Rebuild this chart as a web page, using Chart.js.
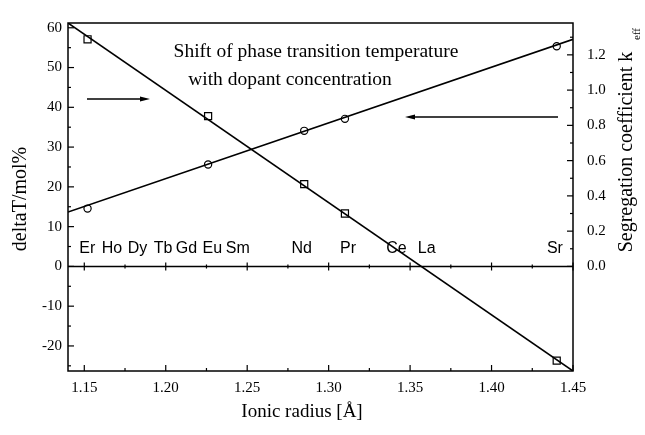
<!DOCTYPE html>
<html>
<head>
<meta charset="utf-8">
<script src="https://cdn.jsdelivr.net/npm/chart.js@4/dist/chart.umd.min.js"></script>
<style>
  html, body { margin: 0; padding: 0; background: #fff; }
  #wrap { width: 645px; height: 435px; }
</style>
</head>
<body>
<div id="wrap"><canvas id="chart" width="645" height="435"></canvas></div>
<script>
// measured points: ionic radius [A], shift of transition temperature, k_eff
const radius = [1.152, 1.226, 1.285, 1.310, 1.440];
const shiftT = [57.1, 37.8, 20.7, 13.3, -23.7];
const kEff = [0.328, 0.578, 0.769, 0.837, 1.249];

// straight-line fits, evaluated at the ends of the radius axis
const fitRadius = [1.14, 1.45];
const shiftFit = [61.2, -26.3];
const kFit = [0.308, 1.288];

// dopant ions and the radius each label sits at
const dopants = ['Er', 'Ho', 'Dy', 'Tb', 'Gd', 'Eu', 'Sm', 'Nd', 'Pr', 'Ce', 'La', 'Sr'];
const dopantRadius = [1.1518, 1.167, 1.1827, 1.1983, 1.2127, 1.2286, 1.2442, 1.2834, 1.3119, 1.3416, 1.3602, 1.4389];

const xTicks = [1.15, 1.20, 1.25, 1.30, 1.35, 1.40, 1.45];
const yTicks = [-20, -10, 0, 10, 20, 30, 40, 50, 60];
const kTicks = [0.0, 0.2, 0.4, 0.6, 0.8, 1.0, 1.2];

const yMin = -26.3, yMax = 61.2;
// right axis shares the zero line with the left one
const kPerUnit = 0.02256;

const serif = 'Liberation Serif, Times New Roman, serif';
const sans = 'Liberation Sans, Arial, sans-serif';

function arrow(ctx, x1, x2, yy) {
    const dir = Math.sign(x2 - x1);
    ctx.beginPath();
    ctx.moveTo(x1, yy);
    ctx.lineTo(x2 - dir * 6, yy);
    ctx.stroke();
    ctx.beginPath();
    ctx.moveTo(x2, yy);
    ctx.lineTo(x2 - dir * 10, yy - 2.5);
    ctx.lineTo(x2 - dir * 10, yy + 2.5);
    ctx.closePath();
    ctx.fill();
}

const decorations = {
    id: 'decorations',
    beforeDatasetsDraw(chart) {
        const { ctx, chartArea: a, scales: { x, y, y2 } } = chart;
        ctx.save();
        ctx.strokeStyle = '#000';
        ctx.fillStyle = '#000';
        ctx.lineWidth = 1.5;
        ctx.strokeRect(a.left, a.top, a.right - a.left, a.bottom - a.top);

        const y0 = y.getPixelForValue(0);
        ctx.beginPath();
        ctx.moveTo(a.left, y0);
        ctx.lineTo(a.right, y0);
        ctx.stroke();

        ctx.lineWidth = 1.2;
        // radius ticks on the bottom edge and across the zero line
        for (let i = 0; i <= 12; i++) {
            const px = x.getPixelForValue(1.15 + i * 0.025);
            const major = i % 2 === 0;
            const len = major ? 6 : 3;
            ctx.beginPath();
            ctx.moveTo(px, a.bottom);
            ctx.lineTo(px, a.bottom - len);
            ctx.moveTo(px, y0 - (major ? 4 : 2));
            ctx.lineTo(px, y0 + (major ? 4 : 2));
            ctx.stroke();
        }
        // left axis ticks
        for (let v = -25; v <= 60; v += 5) {
            const py = y.getPixelForValue(v);
            ctx.beginPath();
            ctx.moveTo(a.left, py);
            ctx.lineTo(a.left + (v % 10 === 0 ? 6 : 3), py);
            ctx.stroke();
        }
        // right axis ticks
        for (let i = 0; i <= 13; i++) {
            const py = y2.getPixelForValue(i * 0.1);
            ctx.beginPath();
            ctx.moveTo(a.right, py);
            ctx.lineTo(a.right - (i % 2 === 0 ? 6 : 3), py);
            ctx.stroke();
        }

        // dopant labels above the zero line
        ctx.font = '16px ' + sans;
        ctx.textAlign = 'center';
        ctx.textBaseline = 'middle';
        dopants.forEach((d, i) => {
            ctx.fillText(d, x.getPixelForValue(dopantRadius[i]), y0 - 18);
        });

        // heading
        ctx.font = '19.5px ' + serif;
        ctx.fillText('Shift of phase transition temperature', a.left + 248, a.top + 29);
        ctx.fillText('with dopant concentration', a.left + 222, a.top + 57);

        // arrows pointing to the axis each line belongs to
        ctx.lineWidth = 1.3;
        arrow(ctx, a.left + 19, a.left + 82, a.top + 76);
        arrow(ctx, a.right - 15, a.right - 168, a.top + 94);

        // axis titles
        ctx.font = '20px ' + serif;
        ctx.save();
        ctx.translate(21, 199);
        ctx.rotate(-Math.PI / 2);
        ctx.fillText('deltaT/mol%', 0, 0);
        ctx.restore();

        ctx.save();
        ctx.translate(627, 152);
        ctx.rotate(-Math.PI / 2);
        ctx.textAlign = 'center';
        ctx.fillText('Segregation coefficient k', 0, 0);
        ctx.font = '11px ' + serif;
        ctx.fillText('eff', 118, 10);
        ctx.restore();

        ctx.font = '19px ' + serif;
        ctx.fillText('Ionic radius [\u00C5]', 302, 412);
        ctx.restore();
    }
};

new Chart(document.getElementById('chart'), {
    type: 'scatter',
    data: {
        datasets: [
            {
                data: fitRadius.map((r, i) => ({ x: r, y: shiftFit[i] })),
                yAxisID: 'y',
                showLine: true,
                borderColor: '#000',
                borderWidth: 1.6,
                pointRadius: 0
            },
            {
                data: fitRadius.map((r, i) => ({ x: r, y: kFit[i] })),
                yAxisID: 'y2',
                showLine: true,
                borderColor: '#000',
                borderWidth: 1.6,
                pointRadius: 0
            },
            {
                data: radius.map((r, i) => ({ x: r, y: shiftT[i] })),
                yAxisID: 'y',
                pointStyle: 'rect',
                pointRadius: 5,
                pointBorderWidth: 1.2,
                pointBorderColor: '#000',
                pointBackgroundColor: 'rgba(0,0,0,0)'
            },
            {
                data: radius.map((r, i) => ({ x: r, y: kEff[i] })),
                yAxisID: 'y2',
                pointStyle: 'circle',
                pointRadius: 3.6,
                pointBorderWidth: 1.2,
                pointBorderColor: '#000',
                pointBackgroundColor: 'rgba(0,0,0,0)'
            }
        ]
    },
    options: {
        responsive: false,
        animation: false,
        layout: { padding: { top: 12 } },
        plugins: { legend: { display: false }, tooltip: { enabled: false } },
        scales: {
            x: {
                type: 'linear',
                min: 1.14,
                max: 1.45,
                afterBuildTicks: s => { s.ticks = xTicks.map(v => ({ value: v })); },
                afterFit: s => { s.height = 64; },
                grid: { display: false, drawTicks: false },
                border: { display: false },
                ticks: {
                    callback: v => v.toFixed(2),
                    color: '#000',
                    font: { family: serif, size: 15 },
                    padding: 8,
                    maxRotation: 0
                }
            },
            y: {
                position: 'left',
                min: yMin,
                max: yMax,
                afterBuildTicks: s => { s.ticks = yTicks.map(v => ({ value: v })); },
                afterFit: s => { s.width = 68; },
                grid: { display: false, drawTicks: false },
                border: { display: false },
                ticks: {
                    color: '#000',
                    font: { family: serif, size: 15 },
                    padding: 6
                }
            },
            y2: {
                position: 'right',
                min: yMin * kPerUnit,
                max: yMax * kPerUnit,
                afterBuildTicks: s => { s.ticks = kTicks.map(v => ({ value: v })); },
                afterFit: s => { s.width = 72; },
                grid: { display: false, drawTicks: false },
                border: { display: false },
                ticks: {
                    callback: v => v.toFixed(1),
                    color: '#000',
                    font: { family: serif, size: 15 },
                    padding: 14
                }
            }
        }
    },
    plugins: [decorations]
});
</script>
</body>
</html>
